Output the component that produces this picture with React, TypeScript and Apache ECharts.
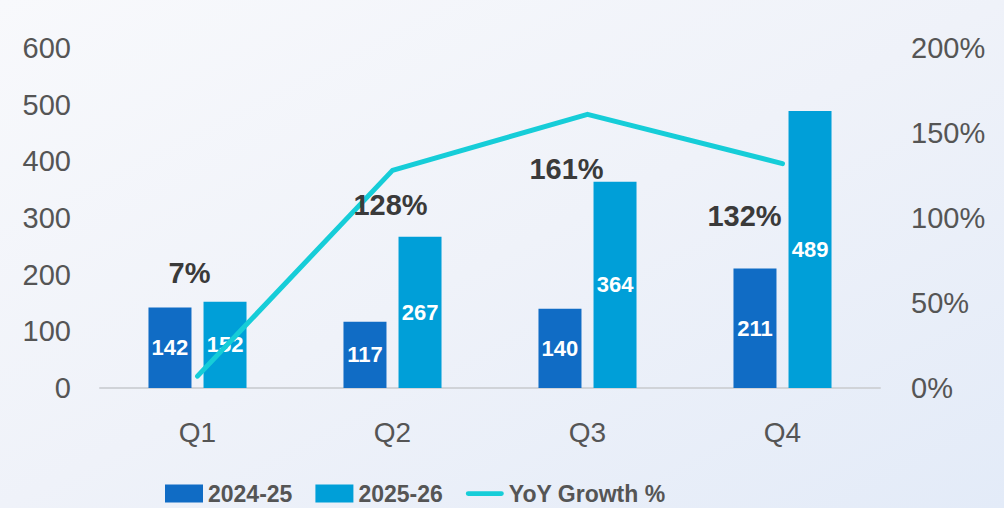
import React, { useEffect, useRef } from "react";
import * as echarts from "echarts";

const categories = ["Q1", "Q2", "Q3", "Q4"];
const fy2425 = [142, 117, 140, 211];
const fy2526 = [152, 267, 364, 489];
const yoyGrowth = [7, 128, 161, 132];
const leftTicks = { min: 0, max: 600, interval: 100 };
const rightTicks = { min: 0, max: 200, interval: 50 };
// label offsets (relative to each line point) for the growth labels
const growthLabelOffsets = [
  [-8, -103],
  [-2, 35],
  [-21, 55],
  [-38, 52],
];

const FONT = "Arial, 'Liberation Sans', sans-serif";

export default function App() {
  const ref = useRef<HTMLDivElement>(null);
  useEffect(() => {
    if (!ref.current) return;
    const chart = echarts.init(ref.current, undefined, { renderer: "svg" });
    chart.setOption({
      animation: false,
      backgroundColor: {
        type: "linear",
        x: 0,
        y: 0,
        x2: 1,
        y2: 1,
        colorStops: [
          { offset: 0, color: "#F8F9FC" },
          { offset: 0.5, color: "#EFF2F9" },
          { offset: 1, color: "#E3EBF8" },
        ],
      },
      textStyle: { fontFamily: FONT },
      grid: { left: 100, right: 124, top: 48, bottom: 120, containLabel: false },
      legend: {
        left: 165,
        top: 482,
        padding: 0,
        itemWidth: 38,
        itemHeight: 18,
        itemGap: 23,
        textStyle: { fontSize: 23, fontWeight: "bold", color: "#555", fontFamily: FONT },
        data: [
          { name: "2024-25", icon: "rect" },
          { name: "2025-26", icon: "rect" },
          {
            name: "YoY Growth %",
            icon: "path://M2.5,0 H37.5 A2.5,2.5 0 0 1 37.5,5 H2.5 A2.5,2.5 0 0 1 2.5,0 Z",
          },
        ],
      },
      xAxis: {
        type: "category",
        data: categories,
        axisLine: { show: true, lineStyle: { color: "#D0D3D8", width: 2 } },
        axisTick: { show: false },
        axisLabel: { fontSize: 28, color: "#555", margin: 30, fontFamily: FONT },
      },
      yAxis: [
        {
          type: "value",
          min: leftTicks.min,
          max: leftTicks.max,
          interval: leftTicks.interval,
          splitLine: { show: false },
          axisLine: { show: false },
          axisTick: { show: false },
          axisLabel: { fontSize: 29, color: "#555", margin: 29, fontFamily: FONT },
        },
        {
          type: "value",
          min: rightTicks.min,
          max: rightTicks.max,
          interval: rightTicks.interval,
          splitLine: { show: false },
          axisLine: { show: false },
          axisTick: { show: false },
          axisLabel: { fontSize: 29, color: "#555", margin: 31, formatter: "{value}%", fontFamily: FONT },
        },
      ],
      series: [
        {
          name: "2024-25",
          type: "bar",
          data: fy2425,
          barWidth: 43,
          barGap: "28%",
          itemStyle: { color: "#106CC5" },
          label: {
            show: true,
            position: "inside",
            color: "#fff",
            fontSize: 22,
            fontWeight: "bold",
            fontFamily: FONT,
          },
        },
        {
          name: "2025-26",
          type: "bar",
          data: fy2526,
          barWidth: 43,
          itemStyle: { color: "#009FD8" },
          label: {
            show: true,
            position: "inside",
            color: "#fff",
            fontSize: 22,
            fontWeight: "bold",
            fontFamily: FONT,
          },
        },
        {
          name: "YoY Growth %",
          type: "line",
          yAxisIndex: 1,
          data: yoyGrowth.map((v, i) => ({
            value: v,
            label: { offset: growthLabelOffsets[i] },
          })),
          symbol: "circle",
          symbolSize: 1,
          itemStyle: { color: "#16CDD8" },
          lineStyle: { color: "#16CDD8", width: 5, cap: "round", join: "round" },
          label: {
            show: true,
            position: "inside",
            formatter: "{c}%",
            color: "#3A3A3A",
            fontSize: 29,
            fontWeight: "bold",
            fontFamily: FONT,
          },
          z: 5,
        },
      ],
    });
    return () => chart.dispose();
  }, []);
  return (
    <div
      ref={ref}
      style={{ position: "fixed", left: 0, top: 0, width: 1004, height: 508 }}
    />
  );
}
